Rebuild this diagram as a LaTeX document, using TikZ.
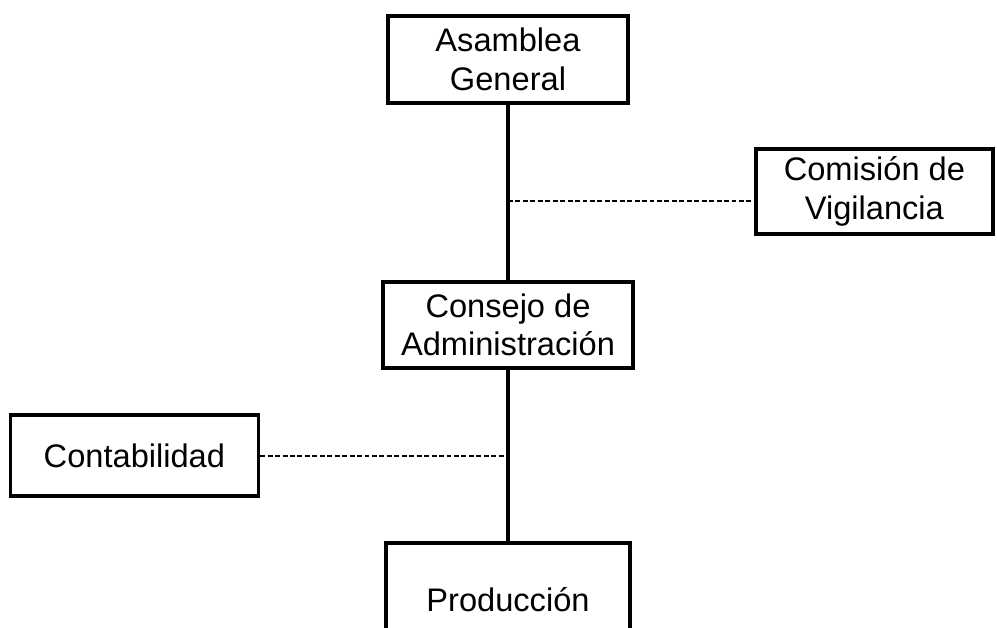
\documentclass[tikz,border=0pt]{standalone}
\usepackage{fontspec}
\setmainfont{Liberation Sans}
\usepackage{tikz}

\begin{document}
\begin{tikzpicture}[caja/.style={draw,line width=2.6pt,align=center,inner sep=0pt,
                      font=\fontsize{23.2}{27.5}\selectfont},
                    linea/.style={line width=2.6pt},
                    puntos/.style={line width=1.3pt,dash pattern=on 3.5pt off 1.8pt}]
                      \useasboundingbox (0,0) rectangle (24.925,-15.7);
                      \node[caja,minimum width=6cm,minimum height=2.18cm](asam)at(12.7,-1.49){Asamblea\\General};
                      \node[caja,minimum width=5.93cm,minimum height=2.12cm](comi)at(21.86,-4.79){Comisión de\\Vigilancia};
                      \node[caja,minimum width=6.25cm,minimum height=2.15cm](cons)at(12.7,-8.125){Consejo de\\Administración};
                      \node[caja,minimum width=6.2cm,minimum height=2.03cm](cont)at(3.36,-11.39){Contabilidad};
                      \node[caja,minimum width=6.1cm,minimum height=2.8cm](prod)at(12.7,-14.98){Producción};
                      \draw[linea] (asam) -- (cons);
                      \draw[linea] (cons) -- (prod);
                      \coordinate (vig) at (12.7,-5.03);
                      \draw[puntos] (vig) -- (vig -| comi.west);
                      \draw[puntos] (cont.east) -- (cont.east -| cons.south);
                  \end{tikzpicture}
\end{document}
